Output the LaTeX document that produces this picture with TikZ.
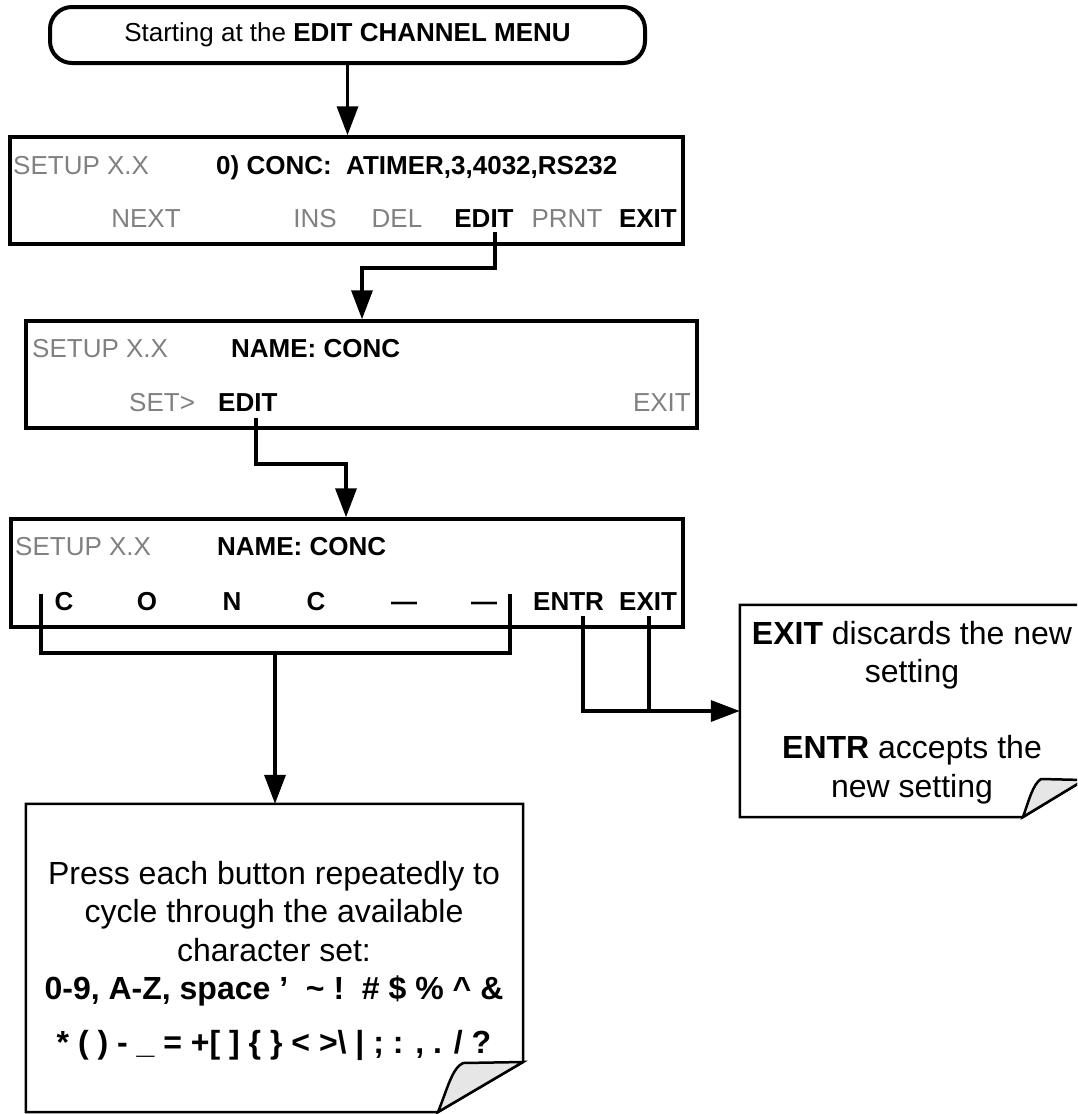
\documentclass[tikz,border=0pt]{standalone}
\usepackage{fontspec}
\setmainfont{Liberation Sans}
\usetikzlibrary{arrows.meta}
\definecolor{lcdgray}{RGB}{128,128,128}
\definecolor{flapgray}{RGB}{230,230,230}
\begin{document}
\begin{tikzpicture}[x=1pt,y=-1pt,
  lcdbox/.style={draw, line width=3.5pt, inner sep=0},
  termbox/.style={draw, line width=4pt, rounded corners=22pt, inner sep=0, font=\fontsize{26}{30}\selectfont},
  lcdtxt/.style={inner sep=0, font=\fontsize{26}{30}\selectfont},
  lgray/.style={lcdtxt, text=lcdgray},
  lbold/.style={inner sep=0, font=\fontsize{26}{30}\selectfont\bfseries},
  notetxt/.style={inner sep=0, font=\fontsize{32}{38}\selectfont},
  notebold/.style={inner sep=0, font=\fontsize{32}{38}\selectfont\bfseries},
  conn/.style={line width=3.5pt},
  arr/.style={conn, -{Triangle[length=29pt,width=21pt]}},
  noteline/.style={line width=2.5pt, line join=miter},
]
\useasboundingbox (0,0) rectangle (1077,1114);
\clip (0,0) rectangle (1077,1114);

% start terminator
\node[termbox, minimum width=595pt, minimum height=56pt] (start) at (347.5,35) {Starting at the \textbf{EDIT CHANNEL MENU}};

% box 1
\node[lcdbox, minimum width=673pt, minimum height=107pt] (b1) at (346.5,190.5) {};
\node[lgray, anchor=base west] (b1s) at (13,174) {SETUP X.X};
\node[lbold, anchor=base west] (b1t) at (216,174) {0) CONC:\ \ ATIMER,3,4032,RS232};
\node[lgray, anchor=base] (b1next) at (146,227) {NEXT};
\node[lgray, anchor=base] (b1ins) at (315,227) {INS};
\node[lgray, anchor=base] (b1del) at (397,227) {DEL};
\node[lbold, anchor=base] (b1edit) at (484,227) {EDIT};
\node[lgray, anchor=base] (b1prnt) at (567,227) {PRNT};
\node[lbold, anchor=base east] (b1exit) at (677,227) {EXIT};

% box 2
\node[lcdbox, minimum width=671pt, minimum height=107pt] (b2) at (361.5,374.5) {};
\node[lgray, anchor=base west] (b2s) at (32,357) {SETUP X.X};
\node[lbold, anchor=base west] (b2t) at (231,357) {NAME: CONC};
\node[lgray, anchor=base west] (b2set) at (129,411) {SET>};
\node[lbold, anchor=base west] (b2edit) at (218,411) {EDIT};
\node[lgray, anchor=base east] (b2exit) at (691,411) {EXIT};

% box 3
\node[lcdbox, minimum width=672pt, minimum height=108pt] (b3) at (347,573) {};
\node[lgray, anchor=base west] (b3s) at (15,555) {SETUP X.X};
\node[lbold, anchor=base west] (b3t) at (217,555) {NAME: CONC};
\node[lbold, anchor=base] (c1) at (64,610) {C};
\node[lbold, anchor=base] (c2) at (147,610) {O};
\node[lbold, anchor=base] (c3) at (232,610) {N};
\node[lbold, anchor=base] (c4) at (316,610) {C};
\node[lbold, anchor=base] (c5) at (404,610) {—};
\node[lbold, anchor=base] (c6) at (484,610) {—};
\node[lbold, anchor=base west] (b3entr) at (533,610) {ENTR};
\node[lbold, anchor=base west] (b3exit) at (619,610) {EXIT};

% note 1
\node[inner sep=0, minimum width=497pt, minimum height=308pt] (n1) at (274.5,958) {};
\coordinate (n1r) at (523,1062);
\coordinate (n1b) at (438,1112);
\coordinate (n1c) at (463,1063);
\draw[noteline] (n1.north west) -- (n1.north east) -- (n1r) -- (n1b) -- (n1.south west) -- cycle;
\draw[noteline, fill=flapgray] (n1r) -- (n1b) .. controls (447,1090) and (452,1068) .. (n1c) -- cycle;
\node[notetxt, anchor=base] (n1l1) at (274,884) {Press each button repeatedly to};
\node[notetxt, anchor=base] (n1l2) at (274,922) {cycle through the available};
\node[notetxt, anchor=base] (n1l3) at (274,961) {character set:};
\node[notebold, anchor=base] (n1l4) at (274,999) {0-9, A-Z, space ’\ \ \textasciitilde\ !\ \ \# \$ \% \textasciicircum\ \&};
\node[notebold, anchor=base] (n1l5) at (274,1053) {* ( ) - \_ = +[ ] \{ \} < >\textbackslash\ | ; : , . / ?};

% note 2
\node[inner sep=0, minimum width=344pt, minimum height=212pt] (n2) at (912,711) {};
\coordinate (n2r) at (1084,780);
\coordinate (n2b) at (1023,817);
\coordinate (n2c) at (1041,779);
\draw[noteline] (n2.north west) -- (n2.north east) -- (n2r) -- (n2b) -- (n2.south west) -- cycle;
\draw[noteline, fill=flapgray] (n2r) -- (n2b) .. controls (1029,800) and (1033,784) .. (n2c) -- cycle;
\node[notetxt, anchor=base] (n2l1) at (912,644) {\textbf{EXIT} discards the new};
\node[notetxt, anchor=base] (n2l2) at (912,682) {setting};
\node[notetxt, anchor=base] (n2l3) at (912,758) {\textbf{ENTR} accepts the};
\node[notetxt, anchor=base] (n2l4) at (912,797) {new setting};

% connectors
\draw[arr] (start.south) -- (start.south |- b1.north);
\coordinate (e1) at (495,232);
\coordinate (k1) at (362,268);
\draw[arr] (e1) |- (k1) -- (k1 |- b2.north);
\coordinate (e2) at (256,418);
\coordinate (k2) at (346,464);
\draw[arr] (e2) |- (k2) -- (k2 |- b3.north);
\coordinate (tl) at (41,594);
\coordinate (tr) at (510,594);
\coordinate (bj) at (275,653);
\draw[conn] (tl) |- (bj) -| (tr);
\draw[arr] (bj) -- (bj |- n1.north);
\coordinate (ce) at (583,616);
\coordinate (cx) at (649,616);
\draw[arr] (ce) |- (n2.west);
\draw[conn] (cx) -- (cx |- n2.west);
\end{tikzpicture}
\end{document}
